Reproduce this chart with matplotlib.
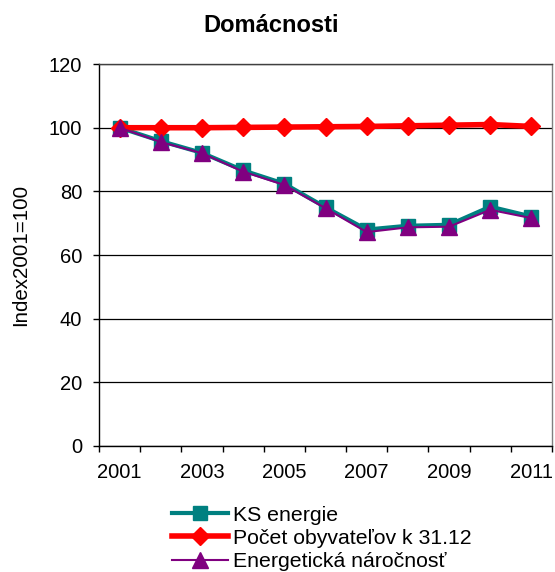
import numpy as np
import matplotlib.pyplot as plt

plt.rcParams['font.family'] = ['Liberation Sans', 'DejaVu Sans']

# roky a indexy (2001 = 100)
roky = [2001, 2002, 2003, 2004, 2005, 2006, 2007, 2008, 2009, 2010, 2011]
ks_energie = [100, 95.8, 92.1, 86.6, 82.4, 75.0, 68.0, 69.2, 69.5, 75.2, 72.1]
pocet_obyv = [100, 100, 100, 100.1, 100.2, 100.3, 100.4, 100.6, 100.8, 101.0, 100.4]
energ_naroc = [100, 95.5, 92.0, 86.2, 82.0, 74.7, 67.2, 68.7, 68.9, 74.2, 71.6]
y_ticks = [0, 20, 40, 60, 80, 100, 120]

fig = plt.figure(figsize=(5.55, 5.72), dpi=100)
ax = fig.add_axes([0.1784, 0.2203, 0.8162, 0.6677])

x = np.arange(len(roky))
ax.plot(x, ks_energie, '-s', color='#008080', lw=3, ms=9.5, label='KS energie', zorder=3)
ax.plot(x, pocet_obyv, '-D', color='#FF0000', lw=4, ms=9, label='Počet obyvateľov k 31.12', zorder=4)
ax.plot(x, energ_naroc, '-^', color='#800080', lw=1.5, ms=11, label='Energetická náročnosť', zorder=5)

# os x: znacky na hraniciach kategorii, popisy len pre neparne roky
ax.set_xlim(-0.5, len(roky) - 0.5)
ax.set_xticks(np.arange(-0.5, len(roky)))
ax.set_xticklabels([])
ax.set_xticks(x[::2], minor=True)
ax.set_xticklabels([str(r) for r in roky[::2]], minor=True)
ax.tick_params(axis='x', which='major', direction='out', length=4.5, width=1)
ax.tick_params(axis='x', which='minor', length=0, pad=12, labelsize=14.5)

ax.set_ylim(0, 120)
ax.set_yticks(y_ticks)
ax.tick_params(axis='y', direction='out', length=4.5, width=1, pad=7.5, labelsize=14.5)
ax.yaxis.grid(True, color='#000000', lw=0.9)
ax.set_axisbelow(True)

ax.spines['left'].set_color('black')
ax.spines['bottom'].set_color('black')
ax.spines['right'].set_color('#808080')
ax.spines['top'].set_color('#404040')
for s in ax.spines.values():
    s.set_linewidth(1)

ax.set_ylabel('Index2001=100', fontsize=14.8)
ax.yaxis.set_label_coords(-0.152, 0.5)

fig.text(0.489, 1 - 25 / 572, 'Domácnosti', ha='center', va='center',
         fontsize=17, fontweight='bold')

fig.legend(loc='upper left', bbox_to_anchor=(0.31, 0.116), frameon=False,
           fontsize=15.3, handlelength=2.65, handletextpad=0.2, labelspacing=0.2,
           borderpad=0, borderaxespad=0)

fig.savefig('out.png', dpi=100)
